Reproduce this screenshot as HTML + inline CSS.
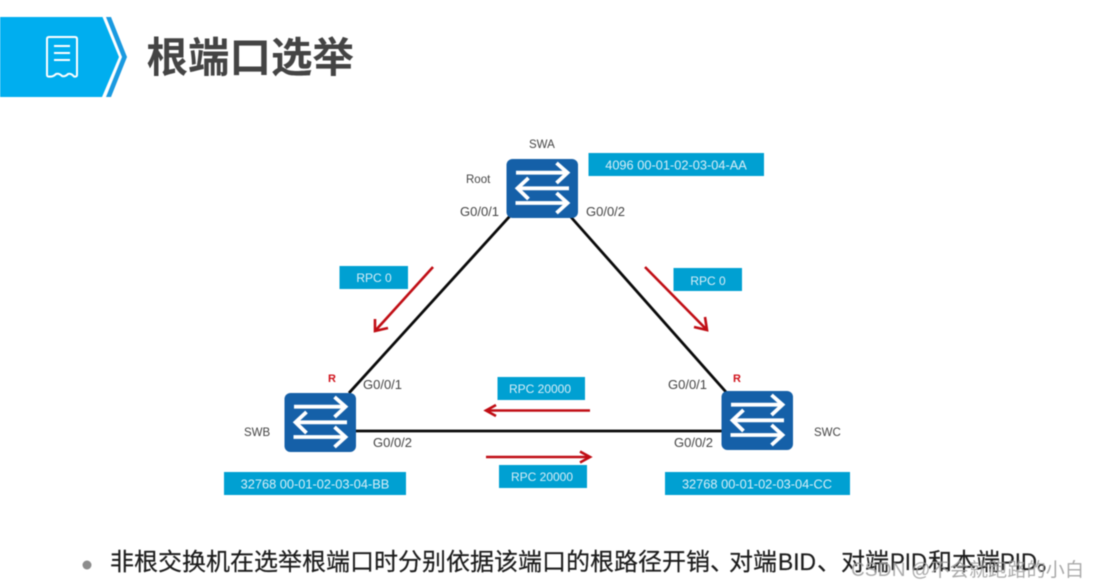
<!DOCTYPE html>
<html>
<head>
<meta charset="utf-8">
<style>
html,body{margin:0;padding:0;background:#fff;width:1096px;height:588px;overflow:hidden}
svg{display:block;filter:blur(0.45px)}
text{font-family:"Liberation Sans","Noto Sans CJK SC",sans-serif}
.lab{font-size:11.5px;fill:#444}
.g{font-size:13px;fill:#444}
.box{font-size:12px;fill:#d8eef7}
.id{font-size:12.8px;fill:#d8eef7}
.b{font-size:24px;fill:#1c1c1c;stroke:#1c1c1c;stroke-width:.2px}
</style>
</head>
<body>
<svg width="1096" height="588" viewBox="0 0 1096 588" xmlns="http://www.w3.org/2000/svg">
<defs>
<g id="sw">
<rect x="0" y="0" width="71.5" height="59" rx="6" fill="#1560a8"/>
<g fill="none" stroke="#fff" stroke-width="3.8">
<path d="M9.500 13.700H60"/><path d="M50 4L61 13.700L50 24"/>
<path d="M62.500 29.300H12"/><path d="M22 19L11 29.300L22 40"/>
<path d="M9 44H60"/><path d="M50 34L61 44L50 54"/>
</g>
</g>
</defs>

<polygon points="0,17 102.500,17 119,57 102,97 0,97" fill="#00aeef"/>
<polygon points="106,17 111,17 127,57 111,97 106,97 122,57" fill="#1a9ae0"/>
<g fill="none" stroke="#fff" stroke-width="2">
<path d="M49 37H75Q77 37 77 39V75Q77 77 74 76.500Q71 73 68 74Q65 77 62 76Q59 73 56 74Q53 77 50 76.500Q47 77 47 75V39Q47 37 49 37Z"/>
<path d="M54 46H70M54 53H70M54 60H70"/>
</g>
<text x="146.500" y="72" font-size="41.500" font-weight="700" fill="#444">根端口选举</text>

<g stroke="#0a0a0a" stroke-width="2.8" fill="none">
<path d="M510 216L349 393"/>
<path d="M570 216L726 392"/>
<path d="M354 431H724"/>
</g>

<use href="#sw" x="506.500" y="159"/>
<use href="#sw" x="284.500" y="393"/>
<use href="#sw" x="721.500" y="391"/>

<g fill="#00a0d2">
<rect x="588.500" y="153" width="175.500" height="23"/>
<rect x="224" y="472" width="182" height="23"/>
<rect x="665" y="472" width="185" height="23"/>
<rect x="497.500" y="377" width="87.500" height="23"/>
<rect x="499" y="465" width="88" height="23"/>
<rect x="339.500" y="266" width="68.500" height="23"/>
<rect x="673.500" y="268" width="68.500" height="23"/>
</g>
<g text-anchor="middle">
<text class="id" x="676" y="169.500">4096 00-01-02-03-04-AA</text>
<text class="id" x="315" y="488.500">32768 00-01-02-03-04-BB</text>
<text class="id" x="757" y="488.500">32768 00-01-02-03-04-CC</text>
<text class="box" x="540" y="393">RPC 20000</text>
<text class="box" x="542" y="481">RPC 20000</text>
<text class="box" x="374" y="282">RPC 0</text>
<text class="box" x="708" y="285">RPC 0</text>
</g>

<g stroke="#c00d14" stroke-width="2.6" fill="none">
<path d="M433 267L375 331"/><path d="M375 319L375 331L388 328"/>
<path d="M645 267L707 330"/><path d="M694 327L707 330L705 317"/>
<path d="M590 410.500H486"/><path d="M496 405L486 410.500L496 416"/>
<path d="M486 457H590"/><path d="M580 451.500L590 457L580 462.500"/>
</g>

<text class="lab" x="529" y="148">SWA</text>
<text class="lab" x="466" y="183">Root</text>
<text class="g" x="460" y="216">G0/0/1</text>
<text class="g" x="586" y="216">G0/0/2</text>
<text class="g" x="363" y="389">G0/0/1</text>
<text class="g" x="373" y="447">G0/0/2</text>
<text class="lab" x="244" y="436">SWB</text>
<text class="g" x="668" y="389">G0/0/1</text>
<text class="g" x="674" y="447">G0/0/2</text>
<text class="lab" x="814" y="436">SWC</text>
<text x="328" y="382" font-size="11" font-weight="700" fill="#d0121b">R</text>
<text x="733" y="382" font-size="11" font-weight="700" fill="#d0121b">R</text>

<circle cx="87" cy="565" r="4.500" fill="#8c8c8c"/>
<text class="b" x="110" y="570">非根交换机在选举根端口时分别依据该端口的根路径开销、</text>
<text class="b" x="729" y="570">对端</text>
<text class="b" x="778" y="570" textLength="38" lengthAdjust="spacingAndGlyphs">BID</text>
<text class="b" x="817" y="570">、</text>
<text class="b" x="841" y="570">对端</text>
<text class="b" x="890" y="570" textLength="37" lengthAdjust="spacingAndGlyphs">PID</text>
<text class="b" x="928" y="570">和本端</text>
<text class="b" x="1000" y="570" textLength="37" lengthAdjust="spacingAndGlyphs">PID</text>
<text class="b" x="1037" y="570">。</text>
<text x="851" y="576" font-size="19" fill="#9a9a9a" fill-opacity="0.85" textLength="233" lengthAdjust="spacing">CSDN @不会就跑路的小白</text>
</svg>
</body>
</html>
